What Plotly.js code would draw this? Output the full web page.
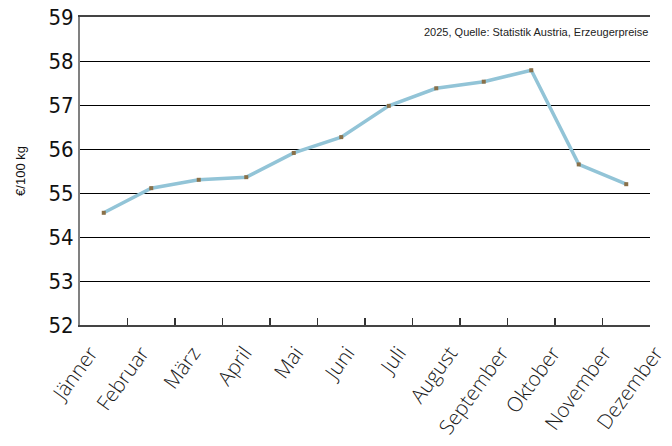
<!DOCTYPE html>
<html>
<head>
<meta charset="utf-8">
<script src="https://cdn.plot.ly/plotly-3.0.1.min.js"></script>
<style>html,body{margin:0;padding:0;background:#fff;}#chart{width:672px;height:446px;}</style>
</head>
<body>
<div id="chart"></div>
<script>
const months = ["Jänner","Februar","März","April","Mai","Juni","Juli","August","September","Oktober","November","Dezember"];
const prices = [54.55, 55.11, 55.30, 55.36, 55.91, 56.27, 56.98, 57.38, 57.53, 57.79, 55.65, 55.20];
const yTicks = [52, 53, 54, 55, 56, 57, 58, 59];
const sourceText = "2025, Quelle: Statistik Austria, Erzeugerpreise";
const yTitle = "€/100 kg";

const trace = {
  x: months,
  y: prices,
  type: "scatter",
  mode: "lines+markers",
  line: {color: "#92c4d7", width: 3.5},
  marker: {symbol: "square", size: 4, color: "#8a7048"},
  hoverinfo: "x+y"
};

// invisible carrier trace for the (slightly wider spaced) month label axis
const labelTrace = {
  x: months,
  y: prices,
  xaxis: "x2",
  yaxis: "y2",
  type: "scatter",
  mode: "markers",
  marker: {opacity: 0},
  hoverinfo: "skip",
  showlegend: false
};

const layout = {
  width: 672,
  height: 446,
  margin: {l: 80, r: 0, t: 17, b: 121},
  paper_bgcolor: "#fff",
  plot_bgcolor: "rgba(0,0,0,0)",
  showlegend: false,
  xaxis: {
    type: "category",
    domain: [0, 570 / 592],
    range: [-0.5, 11.5],
    tickson: "boundaries",
    ticks: "inside",
    ticklen: 7,
    tickwidth: 1.5,
    tickcolor: "#333",
    showticklabels: false,
    showgrid: false,
    showline: true,
    linecolor: "#444",
    linewidth: 2,
    mirror: true
  },
  xaxis2: {
    type: "category",
    domain: [0, 1],
    anchor: "y2",
    range: [-0.2, 11.318],
    showgrid: false,
    showline: false,
    zeroline: false,
    ticks: "",
    tickangle: -54,
    ticklabelstandoff: 11,
    tickfont: {family: "'Open Sans', sans-serif", size: 20.5, color: "#1a1a1a", weight: 300}
  },
  yaxis: {
    range: [52, 59],
    tickvals: yTicks,
    ticks: "",
    showgrid: true,
    gridcolor: "#000",
    gridwidth: 1,
    zeroline: false,
    showline: true,
    linecolor: "#808080",
    linewidth: 2,
    tickfont: {family: "'Liberation Sans Narrow', 'DejaVu Sans Condensed', sans-serif", size: 22, color: "#111"},
    title: {text: yTitle, font: {family: "'Liberation Sans Narrow', sans-serif", size: 13, color: "#111"}, standoff: 20}
  },
  yaxis2: {
    range: [52, 59],
    domain: [0, 1],
    anchor: "x2",
    overlaying: "y",
    visible: false
  },
  annotations: [{
    text: sourceText,
    xref: "x domain", yref: "paper",
    x: 1, y: 0.95,
    xanchor: "right", yanchor: "middle",
    showarrow: false,
    font: {family: "'Liberation Sans Narrow', sans-serif", size: 11, color: "#222"}
  }]
};

Plotly.newPlot("chart", [trace, labelTrace], layout, {displayModeBar: false, staticPlot: true});
</script>
</body>
</html>
